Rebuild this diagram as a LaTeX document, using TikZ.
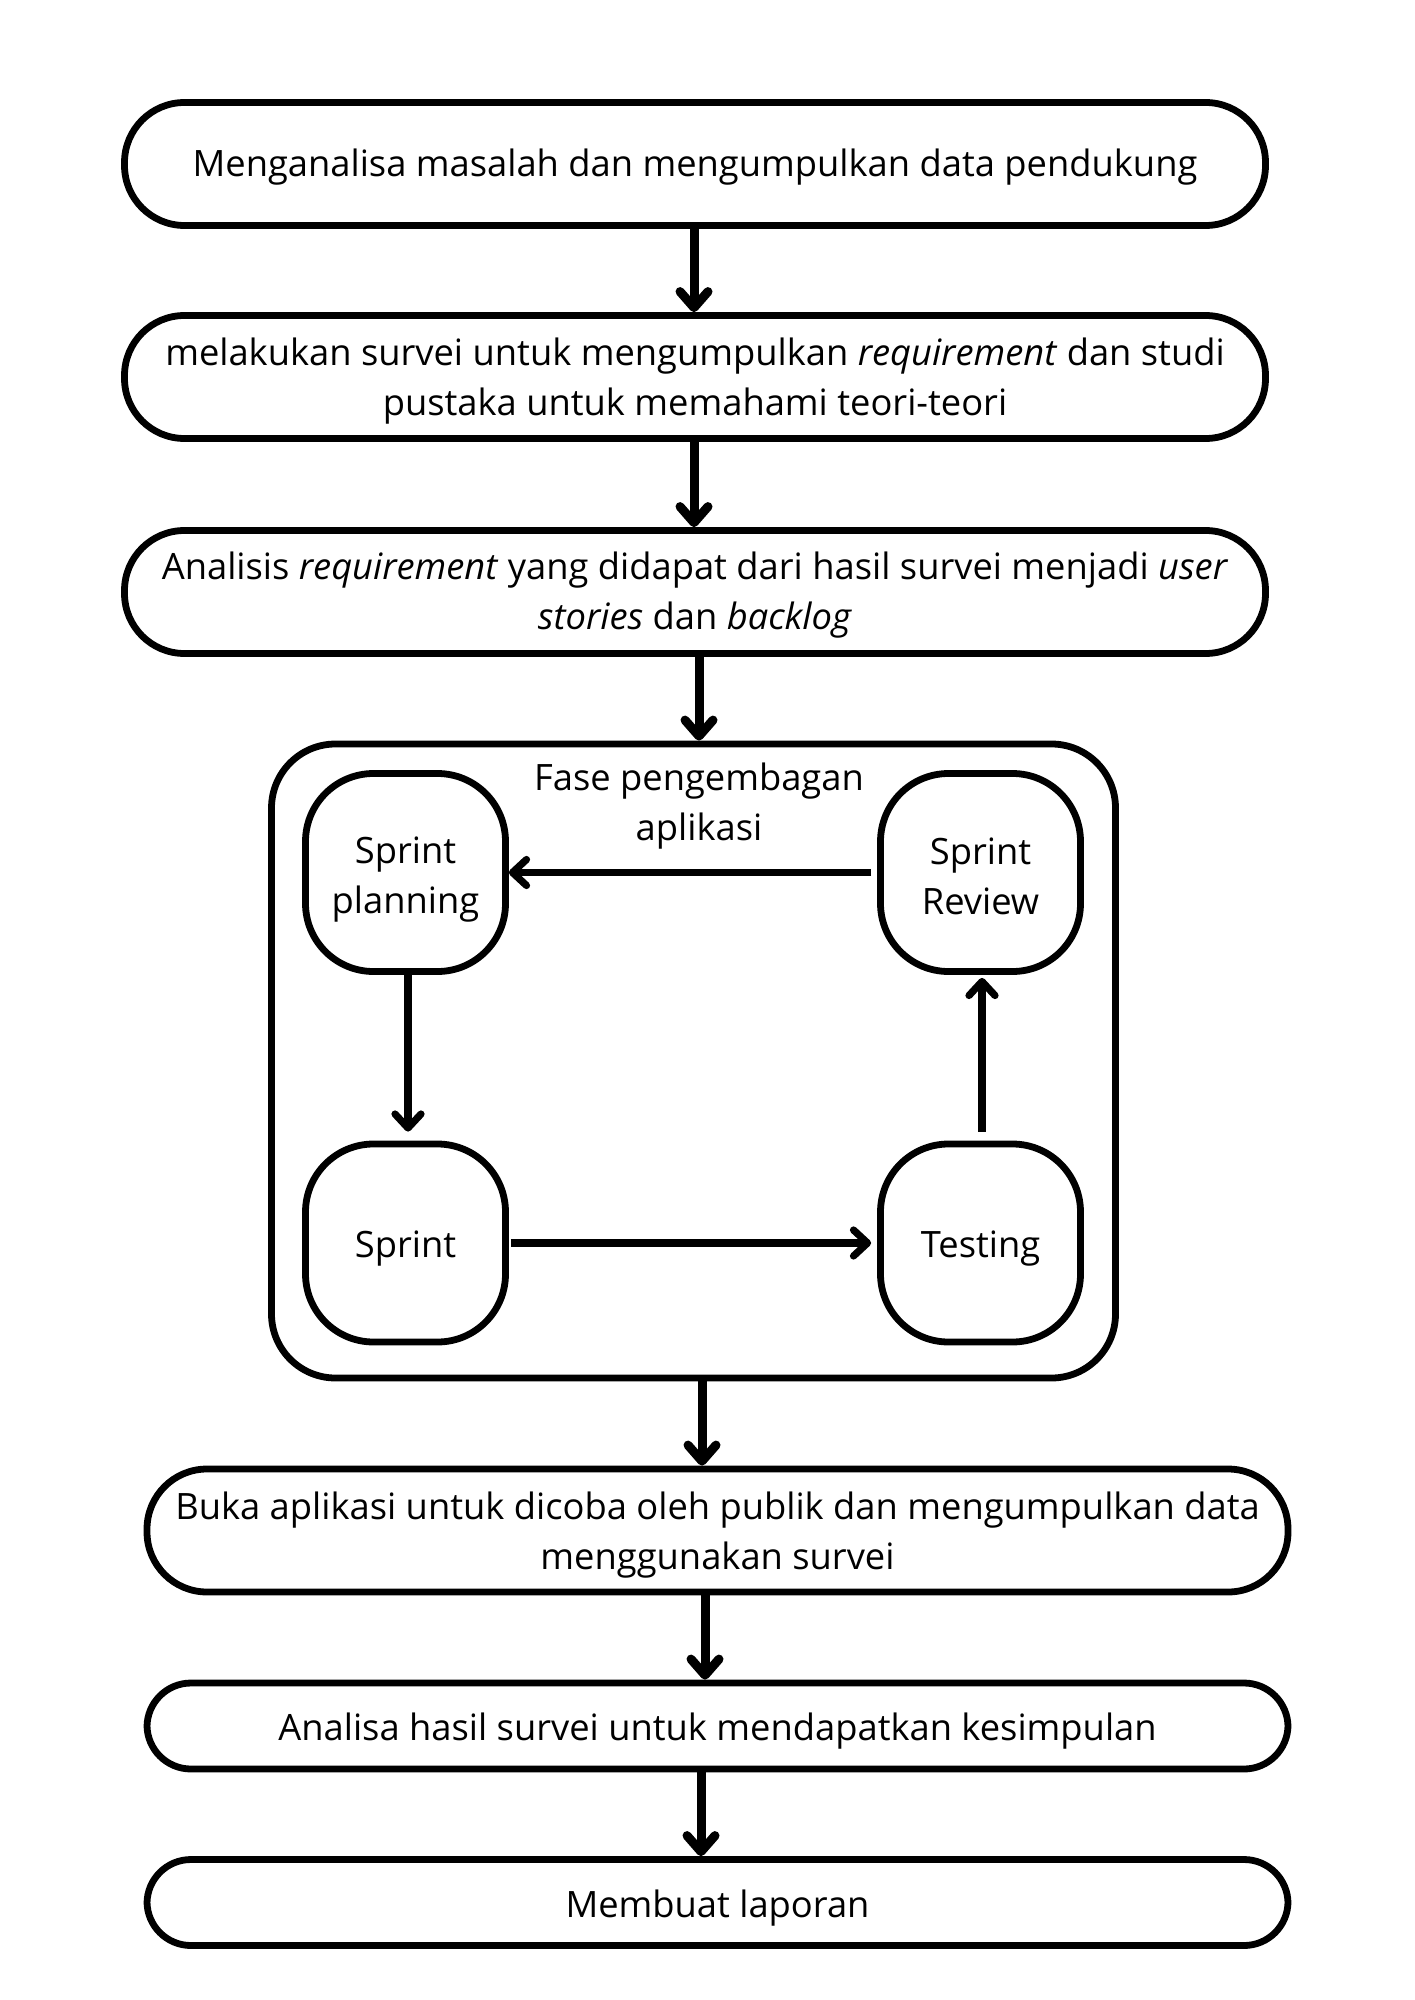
\documentclass[tikz,border=0pt]{standalone}
\usepackage{fontspec}
\setmainfont{Open Sans}
\usetikzlibrary{arrows.meta}
\begin{document}
\begin{tikzpicture}[x=0.5pt,y=-0.5pt,
  txt/.style={font=\fontsize{18.15}{25}\selectfont, align=center, inner sep=0pt},
  box/.style={draw, line width=3.4pt, rounded corners=30pt, inner sep=0pt, minimum width=570.5pt, minimum height=61.5pt},
  lowbox/.style={box, rounded corners=22pt, minimum height=43pt},
  inbox/.style={draw, line width=3.4pt, rounded corners=34pt, inner sep=0pt, minimum width=100pt, minimum height=99pt},
  frame/.style={draw, line width=3.4pt, rounded corners=32pt, minimum width=422pt, minimum height=317pt, inner sep=0pt},
  arr/.style={line width=4.5pt, -{Straight Barb[length=8pt,width=14pt,round]}},
  inarr/.style={line width=3.6pt, -{Straight Barb[length=7pt,width=13pt,round]}}
]
\path[fill=white, use as bounding box] (0,0) rectangle (1414,2000);

% shapes
\node[box] (b1) at (695,164) {};
\node[box] (b2) at (695,377) {};
\node[box] (b3) at (695,592) {};
\node[frame] (cont) at (693.5,1061) {};
\node[inbox] (sp) at (405.5,872.5) {};
\node[inbox] (sr) at (980.5,872.5) {};
\node[inbox] (s) at (405.5,1243) {};
\node[inbox] (t) at (980.5,1243) {};
\node[box] (b5) at (717.5,1530.5) {};
\node[lowbox] (b6) at (717.5,1726) {};
\node[lowbox] (b7) at (717.5,1902.5) {};

% texts
\node[txt] (b1t) at ([yshift=-1.4pt]b1.center) {Menganalisa masalah dan mengumpulkan data pendukung};
\node[txt] (b2t) at ([yshift=-1.9pt]b2.center) {melakukan survei untuk mengumpulkan \textit{requirement} dan studi\\pustaka untuk memahami teori-teori};
\node[txt] (b3t) at ([yshift=-1.7pt]b3.center) {Analisis \textit{requirement} yang didapat dari hasil survei menjadi \textit{user}\\\textit{stories} dan \textit{backlog}};
\node[txt] (lbl) at ([yshift=-2.2pt]699,802) {Fase pengembagan\\aplikasi};
\node[txt] (spt) at ([yshift=-3.4pt]sp.center) {Sprint\\planning};
\node[txt] (srt) at ([yshift=-1.7pt]sr.center) {Sprint\\Review};
\node[txt] (st) at ([yshift=-3pt]s.center) {Sprint};
\node[txt] (tt) at ([yshift=-3pt]t.center) {Testing};
\node[txt] (b5t) at ([yshift=-2.4pt]b5.center) {Buka aplikasi untuk dicoba oleh publik dan mengumpulkan data\\menggunakan survei};
\node[txt] (b6t) at ([yshift=-2.4pt]b6.center) {Analisa hasil survei untuk mendapatkan kesimpulan};
\node[txt] (b7t) at ([yshift=-2.8pt]b7.center) {Membuat laporan};

\coordinate (x1) at (694,0);
\coordinate (x3) at (699,0);
\coordinate (x4) at (702,0);
\coordinate (x5) at (705,0);
\coordinate (x6) at (701,0);
\coordinate (xl) at (408,0);
\coordinate (xr) at (982,0);

\draw[arr] (b1.south -| x1) -- (b2.north -| x1);
\draw[arr] (b2.south -| x1) -- (b3.north -| x1);
\draw[arr] (b3.south -| x3) -- (cont.north -| x3);
\draw[arr] (cont.south -| x4) -- (b5.north -| x4);
\draw[arr] (b5.south -| x5) -- (b6.north -| x5);
\draw[arr] (b6.south -| x6) -- (b7.north -| x6);

\draw[inarr, shorten <=3pt] (sr) -- (sp);
\draw[inarr, shorten >=4.5pt] (sp.south -| xl) -- (s.north -| xl);
\draw[inarr, shorten <=1pt, shorten >=3pt] (s) -- (t);
\draw[inarr, shorten <=4.5pt, shorten >=1.5pt] (t.north -| xr) -- (sr.south -| xr);
\end{tikzpicture}
\end{document}
